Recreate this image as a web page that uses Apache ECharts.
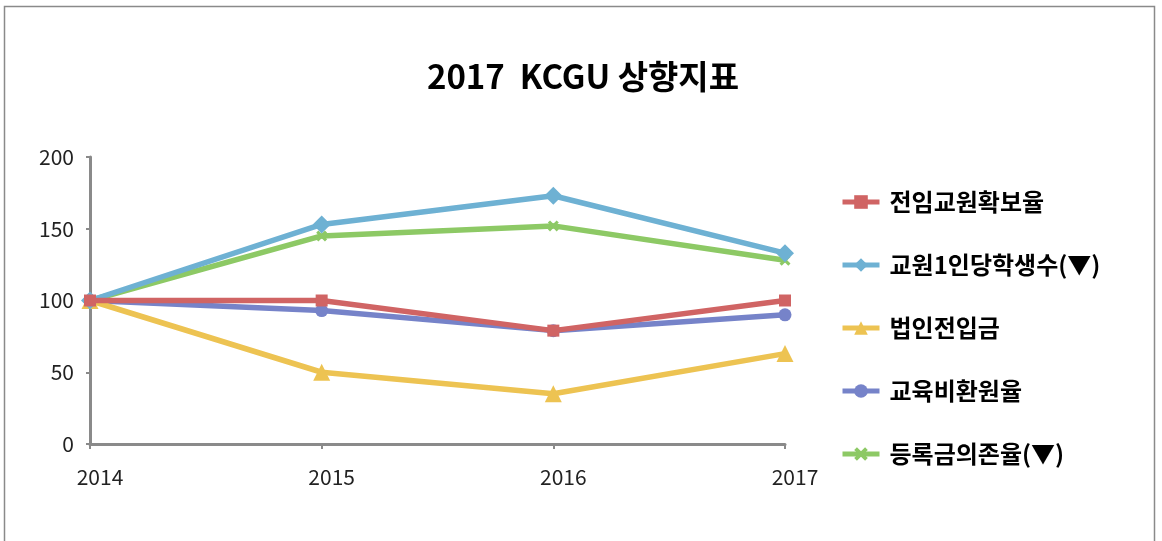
<!DOCTYPE html>
<html>
<head>
<meta charset="utf-8">
<script src="https://cdn.jsdelivr.net/npm/echarts@6/dist/echarts.min.js"></script>
<style>
  html,body{margin:0;padding:0;background:#fff;}
  #chart{width:1162px;height:541px;}
</style>
</head>
<body>
<div id="chart"></div>
<script>
// 2017 KCGU 상향지표
const years = ['2014', '2015', '2016', '2017'];
const seriesNames = ['전임교원확보율', '교원1인당학생수(▼)', '법인전입금', '교육비환원율', '등록금의존율(▼)'];
const fullTimeFaculty = [100, 100, 79, 100];
const studentsPerFaculty = [100, 153, 173, 133];
const corpTransfer = [100, 50, 35, 63];
const eduReturn = [100, 93, 79, 90];
const tuitionDependence = [100, 145, 152, 128];

const colors = ['#D06464', '#6EB1D3', '#EDC352', '#7683C9', '#8DC965'];
const xMark = 'path://M0,2 L2,0 L5,3 L8,0 L10,2 L7,5 L10,8 L8,10 L5,7 L2,10 L0,8 L3,5 Z';

const chart = echarts.init(document.getElementById('chart'));

function line(name, data, idx, symbol, size) {
  return {
    name: name,
    type: 'line',
    data: data,
    symbol: symbol,
    symbolSize: size,
    z: 10 - idx,
    lineStyle: { width: 5.5, color: colors[idx] },
    itemStyle: { color: colors[idx] }
  };
}

chart.setOption({
  animation: false,
  textStyle: { fontFamily: '"Noto Sans CJK KR", "Noto Sans", sans-serif' },
  graphic: [{
    type: 'rect',
    shape: { x: 4.5, y: 6.5, width: 1150, height: 600 },
    style: { fill: 'none', stroke: '#8a8a8a', lineWidth: 1.5 },
    silent: true
  }],
  title: {
    text: '2017  KCGU 상향지표',
    left: 578,
    textAlign: 'center',
    top: 55,
    textStyle: { fontSize: 33, fontWeight: 'bold', color: '#000' }
  },
  legend: {
    orient: 'vertical',
    left: 835,
    top: 185,
    itemGap: 39,
    itemWidth: 37,
    itemHeight: 17,
    lineStyle: { width: 5 },
    textStyle: { fontSize: 24, fontWeight: 'bold', color: '#000', padding: [0, 0, 0, 5] },
    data: seriesNames
  },
  grid: { left: 90, right: 377, top: 157, bottom: 97 },
  xAxis: {
    type: 'category',
    data: years,
    boundaryGap: false,
    axisLine: { lineStyle: { color: '#8a8a8a', width: 3 } },
    axisTick: { show: true, length: 5, inside: false, lineStyle: { color: '#8a8a8a', width: 2 } },
    axisLabel: { fontSize: 21, color: '#222', margin: 23, padding: [0, 0, 0, 20] }
  },
  yAxis: {
    type: 'value',
    min: 0,
    max: 200,
    interval: 50,
    splitLine: { show: false },
    axisLine: { show: true, lineStyle: { color: '#8a8a8a', width: 3 } },
    axisTick: { show: true, length: 4, lineStyle: { color: '#8a8a8a', width: 2 } },
    axisLabel: { fontSize: 21, color: '#222', margin: 16 }
  },
  series: [
    line(seriesNames[0], fullTimeFaculty, 0, 'rect', 12),
    line(seriesNames[1], studentsPerFaculty, 1, 'diamond', 18),
    line(seriesNames[2], corpTransfer, 2, 'triangle', 17),
    line(seriesNames[3], eduReturn, 3, 'circle', 13),
    line(seriesNames[4], tuitionDependence, 4, xMark, 11)
  ]
});
</script>
</body>
</html>
